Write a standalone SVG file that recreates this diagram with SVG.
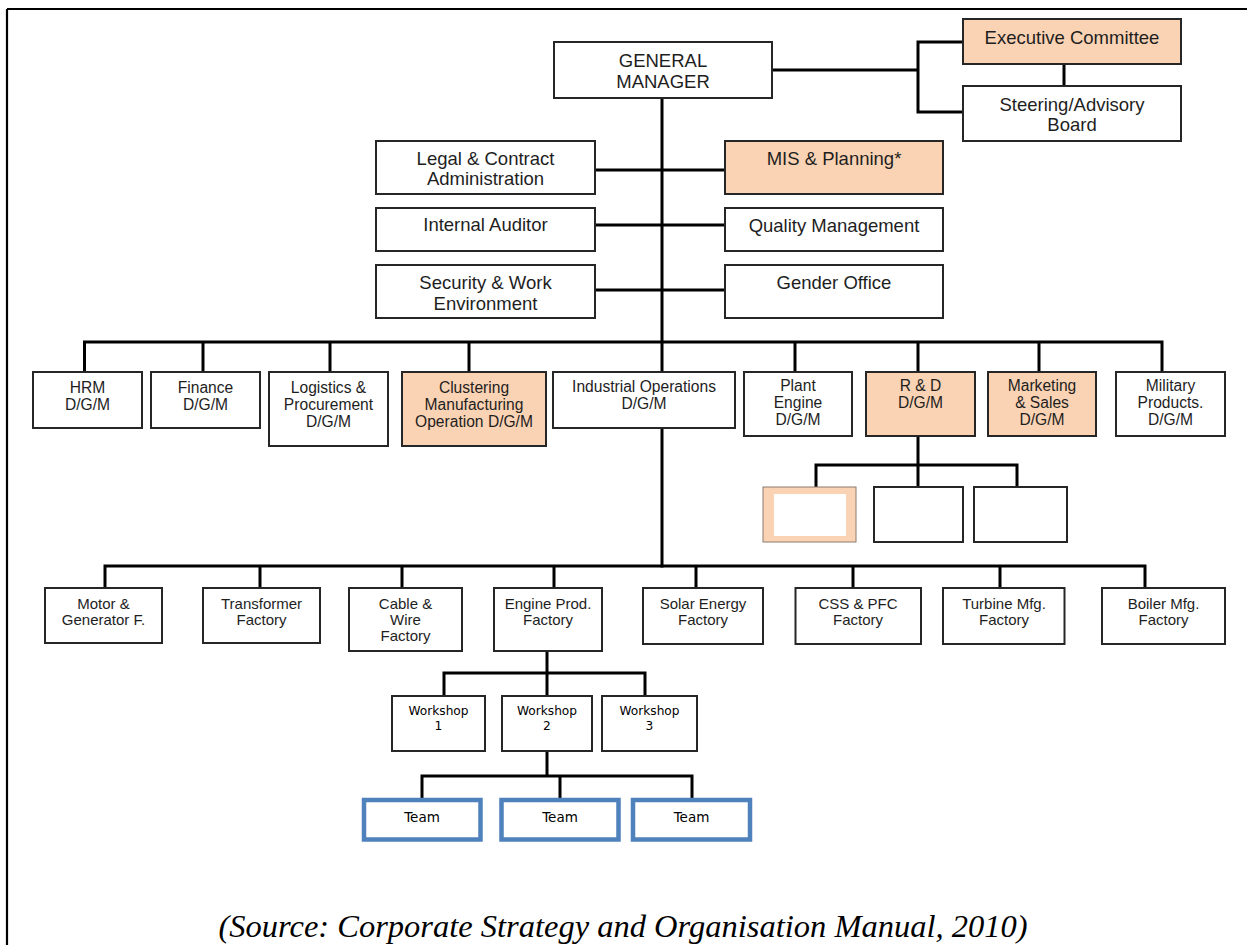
<svg xmlns="http://www.w3.org/2000/svg" width="1247" height="945" viewBox="0 0 1247 945">
  <style>
    .box { fill: #ffffff; stroke: #262626; stroke-width: 2; }
    .peach { fill: #FAD3B4; }
    .team { fill: #ffffff; stroke: #4F81BD; stroke-width: 4.5; }
    .wire { fill: none; stroke: #000000; stroke-width: 3; stroke-linecap: square; }
    .frame { fill: none; stroke: #000000; stroke-width: 2.2; }
    text { font-family: "Liberation Sans", Arial, sans-serif; fill: #1e1e1e; text-anchor: middle; }
    .t18 { font-size: 18.5px; }
    .t16 { font-size: 15.6px; }
    .t15 { font-size: 15px; }
    .ws { font-family: "DejaVu Sans", Verdana, sans-serif; font-size: 12.2px; fill: #000000; }
    .tm { font-family: "DejaVu Sans", Verdana, sans-serif; font-size: 13.5px; fill: #000000; }
    .cap { font-family: "Liberation Serif", "Times New Roman", serif; font-style: italic; font-size: 32.5px; fill: #000000; }
  </style>

  <!-- page frame: top and left rules -->
  <path class="frame" d="M7 9 H1247 M7 9 V945"/>

  <!-- reporting lines -->
  <g id="connectors">
    <path class="wire" d="M772 70 H918 M918 42 V112 M918 42 H963 M918 112 H963"/>
    <path class="wire" d="M1064 64 V86"/>
    <path class="wire" d="M662 98 V566"/>
    <path class="wire" d="M596 170 H725 M596 225 H725 M596 290 H725"/>
    <path class="wire" d="M84.5 342 H1162 M84.5 342 V372 M203 342 V372 M330 342 V372 M469 342 V372 M795 342 V372 M918 342 V372 M1039 342 V372 M1162 342 V372"/>
    <path class="wire" d="M918 436 V465 M816 465 H1017 M816 465 V487 M918 465 V487 M1017 465 V487"/>
    <path class="wire" d="M105 566 H1145 M105 566 V588 M260 566 V588 M402 566 V588 M554 566 V588 M696 566 V588 M853 566 V588 M1000 566 V588 M1145 566 V588"/>
    <path class="wire" d="M547 651 V673 M444 673 H645 M444 673 V696 M547 673 V696 M645 673 V696"/>
    <path class="wire" d="M547 751 V776 M422 776 H692 M422 776 V798 M560 776 V798 M692 776 V798"/>
  </g>

  <!-- top management -->
  <g id="general-manager">
    <rect class="box" x="554" y="42" width="218" height="56"/>
    <text class="t18" x="663" y="67">GENERAL</text>
    <text class="t18" x="663" y="88">MANAGER</text>
  </g>
  <g id="executive-committee">
    <rect class="box peach" x="963" y="19" width="218" height="45"/>
    <text class="t18" x="1072" y="44">Executive Committee</text>
  </g>
  <g id="steering-board">
    <rect class="box" x="963" y="86" width="218" height="55"/>
    <text class="t18" x="1072" y="111">Steering/Advisory</text>
    <text class="t18" x="1072" y="131">Board</text>
  </g>

  <!-- staff offices -->
  <g id="legal">
    <rect class="box" x="376" y="141" width="219" height="53"/>
    <text class="t18" x="485.5" y="165">Legal &amp; Contract</text>
    <text class="t18" x="485.5" y="185">Administration</text>
  </g>
  <g id="mis-planning">
    <rect class="box peach" x="725" y="141" width="218" height="53"/>
    <text class="t18" x="834" y="165">MIS &amp; Planning*</text>
  </g>
  <g id="internal-auditor">
    <rect class="box" x="376" y="208" width="219" height="43"/>
    <text class="t18" x="485.5" y="231">Internal Auditor</text>
  </g>
  <g id="quality-management">
    <rect class="box" x="725" y="208" width="218" height="43"/>
    <text class="t18" x="834" y="232">Quality Management</text>
  </g>
  <g id="security">
    <rect class="box" x="376" y="265" width="219" height="53"/>
    <text class="t18" x="485.5" y="289">Security &amp; Work</text>
    <text class="t18" x="485.5" y="310">Environment</text>
  </g>
  <g id="gender-office">
    <rect class="box" x="725" y="265" width="218" height="53"/>
    <text class="t18" x="834" y="289">Gender Office</text>
  </g>

  <!-- deputy general manager divisions -->
  <g id="hrm">
    <rect class="box" x="33" y="372" width="109" height="56"/>
    <text class="t16" x="87.5" y="393">HRM</text>
    <text class="t16" x="87.5" y="410">D/G/M</text>
  </g>
  <g id="finance">
    <rect class="box" x="151" y="372" width="109" height="56"/>
    <text class="t16" x="205.5" y="393">Finance</text>
    <text class="t16" x="205.5" y="410">D/G/M</text>
  </g>
  <g id="logistics">
    <rect class="box" x="269" y="372" width="119" height="74"/>
    <text class="t16" x="328.5" y="393">Logistics &amp;</text>
    <text class="t16" x="328.5" y="410">Procurement</text>
    <text class="t16" x="328.5" y="427">D/G/M</text>
  </g>
  <g id="clustering">
    <rect class="box peach" x="402" y="372" width="144" height="74"/>
    <text class="t16" x="474" y="393">Clustering</text>
    <text class="t16" x="474" y="410">Manufacturing</text>
    <text class="t16" x="474" y="427">Operation D/G/M</text>
  </g>
  <g id="industrial-operations">
    <rect class="box" x="553" y="372" width="182" height="56"/>
    <text class="t16" x="644" y="392">Industrial Operations</text>
    <text class="t16" x="644" y="409">D/G/M</text>
  </g>
  <g id="plant-engine">
    <rect class="box" x="744" y="372" width="108" height="64"/>
    <text class="t16" x="798" y="391">Plant</text>
    <text class="t16" x="798" y="408">Engine</text>
    <text class="t16" x="798" y="425">D/G/M</text>
  </g>
  <g id="r-and-d">
    <rect class="box peach" x="866" y="372" width="109" height="64"/>
    <text class="t16" x="920.5" y="391">R &amp; D</text>
    <text class="t16" x="920.5" y="408">D/G/M</text>
  </g>
  <g id="marketing">
    <rect class="box peach" x="988" y="372" width="108" height="64"/>
    <text class="t16" x="1042" y="391">Marketing</text>
    <text class="t16" x="1042" y="408">&amp; Sales</text>
    <text class="t16" x="1042" y="425">D/G/M</text>
  </g>
  <g id="military">
    <rect class="box" x="1116" y="372" width="109" height="64"/>
    <text class="t16" x="1170.5" y="391">Military</text>
    <text class="t16" x="1170.5" y="408">Products.</text>
    <text class="t16" x="1170.5" y="425">D/G/M</text>
  </g>

  <!-- R & D units -->
  <g id="rd-unit-1">
    <rect x="763" y="487" width="93" height="55" fill="#FAD3B4" stroke="#8a7a70" stroke-width="1"/>
    <rect x="774" y="494" width="72" height="42" fill="#ffffff"/>
  </g>
  <g id="rd-unit-2">
    <rect class="box" x="874" y="487" width="89" height="55"/>
  </g>
  <g id="rd-unit-3">
    <rect class="box" x="974" y="487" width="93" height="55"/>
  </g>

  <!-- factories -->
  <g id="motor-generator">
    <rect class="box" x="45" y="588" width="117" height="55"/>
    <text class="t15" x="103.5" y="609">Motor &amp;</text>
    <text class="t15" x="103.5" y="625">Generator F.</text>
  </g>
  <g id="transformer">
    <rect class="box" x="203" y="588" width="117" height="55"/>
    <text class="t15" x="261.5" y="609">Transformer</text>
    <text class="t15" x="261.5" y="625">Factory</text>
  </g>
  <g id="cable-wire">
    <rect class="box" x="349" y="588" width="113" height="63"/>
    <text class="t15" x="405.5" y="609">Cable &amp;</text>
    <text class="t15" x="405.5" y="625">Wire</text>
    <text class="t15" x="405.5" y="641">Factory</text>
  </g>
  <g id="engine-prod">
    <rect class="box" x="494" y="588" width="108" height="63"/>
    <text class="t15" x="548" y="609">Engine Prod.</text>
    <text class="t15" x="548" y="625">Factory</text>
  </g>
  <g id="solar-energy">
    <rect class="box" x="643" y="588" width="120" height="56"/>
    <text class="t15" x="703" y="609">Solar Energy</text>
    <text class="t15" x="703" y="625">Factory</text>
  </g>
  <g id="css-pfc">
    <rect class="box" x="795.5" y="588" width="125.5" height="56"/>
    <text class="t15" x="858" y="609">CSS &amp; PFC</text>
    <text class="t15" x="858" y="625">Factory</text>
  </g>
  <g id="turbine">
    <rect class="box" x="943" y="588" width="121.5" height="56"/>
    <text class="t15" x="1004" y="609">Turbine Mfg.</text>
    <text class="t15" x="1004" y="625">Factory</text>
  </g>
  <g id="boiler">
    <rect class="box" x="1102" y="588" width="123" height="56"/>
    <text class="t15" x="1163.5" y="609">Boiler Mfg.</text>
    <text class="t15" x="1163.5" y="625">Factory</text>
  </g>

  <!-- workshops -->
  <g id="workshop-1">
    <rect class="box" x="392" y="696" width="93" height="55"/>
    <text class="ws" x="438.5" y="715">Workshop</text>
    <text class="ws" x="438.5" y="730">1</text>
  </g>
  <g id="workshop-2">
    <rect class="box" x="502" y="696" width="90" height="55"/>
    <text class="ws" x="547" y="715">Workshop</text>
    <text class="ws" x="547" y="730">2</text>
  </g>
  <g id="workshop-3">
    <rect class="box" x="602" y="696" width="95" height="55"/>
    <text class="ws" x="649.5" y="715">Workshop</text>
    <text class="ws" x="649.5" y="730">3</text>
  </g>

  <!-- teams -->
  <g id="team-1">
    <rect class="team" x="364" y="800" width="116.5" height="39.5"/>
    <text class="tm" x="422" y="822">Team</text>
  </g>
  <g id="team-2">
    <rect class="team" x="501.5" y="800" width="117" height="39.5"/>
    <text class="tm" x="560" y="822">Team</text>
  </g>
  <g id="team-3">
    <rect class="team" x="633" y="800" width="117" height="39.5"/>
    <text class="tm" x="691.5" y="822">Team</text>
  </g>

  <text class="cap" x="623" y="937">(Source: Corporate Strategy and Organisation Manual, 2010)</text>
</svg>
